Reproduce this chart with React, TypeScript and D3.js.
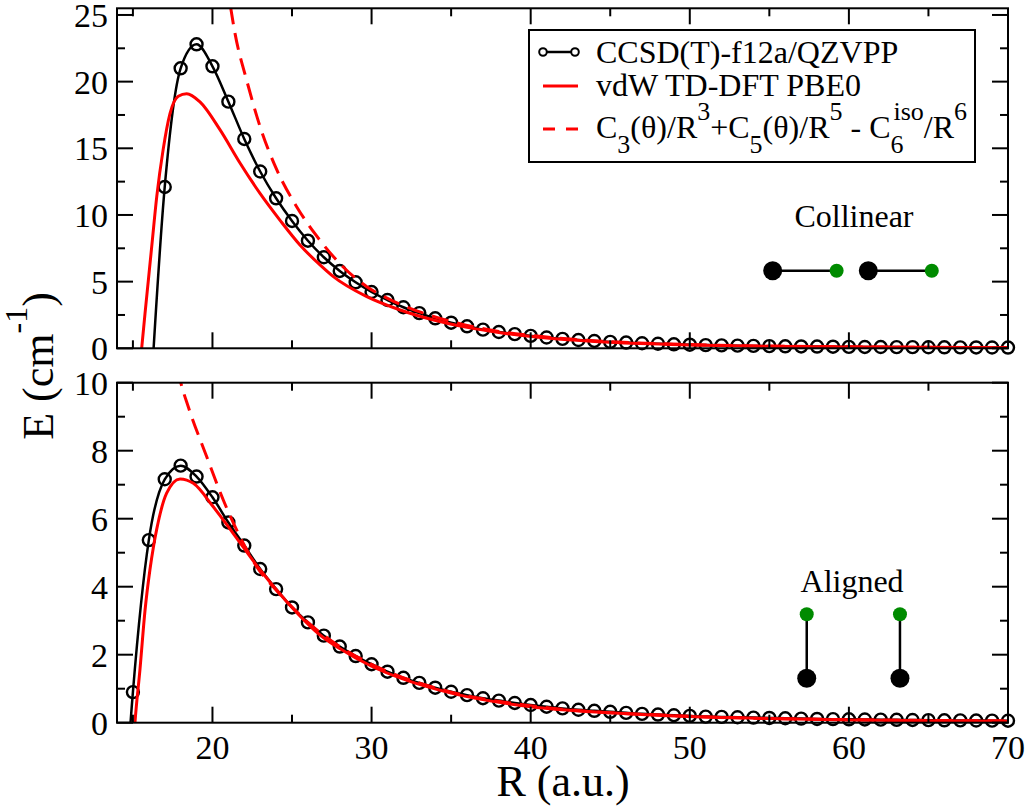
import * as d3 from "d3";

// ---- values ----
// upper panel (collinear)
const R_CC_TOP = [16, 17, 18, 19, 20, 21, 22, 23, 24, 25, 26, 27, 28, 29, 30, 31, 32, 33, 34, 35, 36, 37, 38, 39, 40, 41, 42, 43, 44, 45, 46, 47, 48, 49, 50, 51, 52, 53, 54, 55, 56, 57, 58, 59, 60, 61, 62, 63, 64, 65, 66, 67, 68, 69, 70];
const E_CC_TOP = [-6, 12.1, 21.0, 22.8, 21.15, 18.5, 15.7, 13.26, 11.25, 9.55, 8.07, 6.83, 5.8, 4.95, 4.22, 3.62, 3.08, 2.64, 2.25, 1.92, 1.65, 1.4, 1.22, 1.06, 0.93, 0.81, 0.71, 0.62, 0.55, 0.48, 0.43, 0.38, 0.34, 0.3, 0.27, 0.24, 0.22, 0.2, 0.18, 0.16, 0.15, 0.14, 0.13, 0.12, 0.11, 0.1, 0.095, 0.09, 0.085, 0.08, 0.075, 0.07, 0.065, 0.06, 0.057];
const R_VDW_TOP = [15.35, 15.55, 15.76, 15.97, 16.18, 16.5, 16.9, 17.33, 17.85, 18.38, 19.2, 20.47, 21.73, 23.0, 24.25, 25.5, 26.76, 27.6, 29.7, 31.8, 33.9, 36.0, 38.1, 40.2, 45, 50, 55, 60, 65, 70];
const E_VDW_TOP = [-2.6, 0, 2.6, 5.1, 7.6, 11.4, 14.9, 17.6, 18.9, 19.1, 18.5, 16.4, 13.9, 11.6, 9.6, 7.75, 6.25, 5.37, 3.87, 2.87, 2.12, 1.57, 1.17, 0.87, 0.45, 0.25, 0.15, 0.1, 0.07, 0.05];
const R_ASY_TOP = [20.9, 21.15, 21.42, 22.15, 23.0, 24.04, 25.3, 26.5, 28.2, 29.7, 31, 32, 34, 36, 38, 40, 45, 50, 60, 70];
const E_ASY_TOP = [27.5, 25.5, 23.6, 20.1, 16.6, 13.4, 10.6, 8.5, 6.12, 4.62, 3.75, 3.2, 2.35, 1.72, 1.27, 0.96, 0.5, 0.28, 0.11, 0.055];

// lower panel (aligned)
const R_CC_BOT = [14, 15, 16, 17, 18, 19, 20, 21, 22, 23, 24, 25, 26, 27, 28, 29, 30, 31, 32, 33, 34, 35, 36, 37, 38, 39, 40, 41, 42, 43, 44, 45, 46, 47, 48, 49, 50, 51, 52, 53, 54, 55, 56, 57, 58, 59, 60, 61, 62, 63, 64, 65, 66, 67, 68, 69, 70];
const E_CC_BOT = [-6, 0.9, 5.37, 7.16, 7.56, 7.24, 6.63, 5.89, 5.21, 4.52, 3.93, 3.39, 2.95, 2.56, 2.24, 1.96, 1.72, 1.5, 1.32, 1.17, 1.03, 0.91, 0.81, 0.72, 0.65, 0.58, 0.52, 0.47, 0.42, 0.38, 0.35, 0.32, 0.29, 0.26, 0.24, 0.22, 0.2, 0.18, 0.17, 0.16, 0.15, 0.14, 0.13, 0.12, 0.11, 0.105, 0.1, 0.095, 0.09, 0.085, 0.08, 0.075, 0.07, 0.067, 0.064, 0.061, 0.058];
const R_VDW_BOT = [15.0, 15.13, 15.45, 15.76, 16.07, 16.3, 16.5, 17.12, 17.96, 18.8, 20.05, 21.3, 23.0, 24.67, 26.76, 28, 30, 32, 35, 40, 45, 50, 55, 60, 65, 70];
const E_VDW_BOT = [-0.9, 0, 1.6, 3.3, 4.5, 5.2, 5.7, 6.75, 7.17, 7.04, 6.35, 5.57, 4.49, 3.56, 2.58, 2.18, 1.66, 1.28, 0.87, 0.47, 0.29, 0.18, 0.12, 0.08, 0.055, 0.04];
const R_ASY_BOT = [17.8, 18.02, 18.48, 19.64, 20.68, 21.73, 22.78, 24, 25, 26, 28, 30, 35, 40, 50, 60, 70];
const E_ASY_BOT = [10.4, 9.98, 9.29, 7.82, 6.55, 5.47, 4.59, 3.9, 3.4, 2.95, 2.24, 1.72, 0.9, 0.5, 0.19, 0.09, 0.055];

// axes
const X_MAJOR = [20, 30, 40, 50, 60, 70];
const X_MINOR = [15, 25, 35, 45, 55, 65];
const Y_TOP_MAJOR = [0, 5, 10, 15, 20, 25];
const Y_TOP_MINOR = [2.5, 7.5, 12.5, 17.5, 22.5];
const Y_BOT_MAJOR = [0, 2, 4, 6, 8, 10];
const Y_BOT_MINOR = [1, 3, 5, 7, 9];

// molecule sketches, in data units of each panel
const COLLINEAR_BIG = [[55.21, 5.82], [61.22, 5.82]];
const COLLINEAR_SMALL = [[59.23, 5.82], [65.21, 5.82]];
const ALIGNED_BIG = [[57.35, 1.31], [63.21, 1.31]];
const ALIGNED_SMALL = [[57.35, 3.19], [63.21, 3.19]];

// a single family name: the comma list did not resolve in the sandbox
const FONT = "Liberation Serif";
const GREEN = "#008b00";
const X_LEFT = 117;
const X_RIGHT = 1008;
const MAJOR = 16;
const MINOR = 8;

const x = d3.scaleLinear().domain([14, 70]).range([X_LEFT, X_RIGHT]);

const zip = (rs: number[], es: number[]) => rs.map((r, i) => [r, es[i]] as [number, number]);

interface PanelProps {
    id: string;
    y: d3.ScaleLinear<number, number>;
    yMajor: number[];
    yMinor: number[];
    cc: [number, number][];
    vdw: [number, number][];
    asy: [number, number][];
    xLabels: boolean;
}

function Panel({ id, y, yMajor, yMinor, cc, vdw, asy, xLabels }: PanelProps) {
    const [yb, yt] = y.range();
    const line = d3
        .line<[number, number]>()
        .x((d) => x(d[0]))
        .y((d) => y(d[1]))
        .curve(d3.curveMonotoneX);
    const [lo, hi] = y.domain();
    const pts = cc.filter((d) => d[1] >= lo && d[1] <= hi && d[0] >= 14);

    return (
        <g>
            <clipPath id={id}>
                <rect x={X_LEFT} y={yt} width={X_RIGHT - X_LEFT} height={yb - yt} />
            </clipPath>
            <g clipPath={`url(#${id})`} fill="none">
                <path d={line(cc) ?? ""} stroke="#000" strokeWidth={2.5} />
            </g>
            {pts.map((d, i) => (
                <circle key={i} cx={x(d[0])} cy={y(d[1])} r={6} fill="none" stroke="#000" strokeWidth={2.4} />
            ))}
            <g clipPath={`url(#${id})`} fill="none">
                <path d={line(vdw) ?? ""} stroke="#ff0000" strokeWidth={3} />
                <path d={line(asy) ?? ""} stroke="#ff0000" strokeWidth={3} strokeDasharray="17,9" />
            </g>

            {/* ticks point inward on all four sides */}
            <g stroke="#000" strokeWidth={2}>
                {X_MAJOR.map((v) => (
                    <g key={"xM" + v}>
                        <line x1={x(v)} x2={x(v)} y1={yb} y2={yb - MAJOR} />
                        <line x1={x(v)} x2={x(v)} y1={yt} y2={yt + MAJOR} />
                    </g>
                ))}
                {X_MINOR.map((v) => (
                    <g key={"xm" + v}>
                        <line x1={x(v)} x2={x(v)} y1={yb} y2={yb - MINOR} />
                        <line x1={x(v)} x2={x(v)} y1={yt} y2={yt + MINOR} />
                    </g>
                ))}
                {yMajor.map((v) => (
                    <g key={"yM" + v}>
                        <line x1={X_LEFT} x2={X_LEFT + MAJOR} y1={y(v)} y2={y(v)} />
                        <line x1={X_RIGHT} x2={X_RIGHT - MAJOR} y1={y(v)} y2={y(v)} />
                    </g>
                ))}
                {yMinor.map((v) => (
                    <g key={"ym" + v}>
                        <line x1={X_LEFT} x2={X_LEFT + MINOR} y1={y(v)} y2={y(v)} />
                        <line x1={X_RIGHT} x2={X_RIGHT - MINOR} y1={y(v)} y2={y(v)} />
                    </g>
                ))}
                <rect x={X_LEFT} y={yt} width={X_RIGHT - X_LEFT} height={yb - yt} fill="none" />
            </g>

            {yMajor.map((v) => (
                <text key={"yl" + v} x={X_LEFT - 9} y={y(v)} dy="0.35em" textAnchor="end" fontSize={34} style={{ fontFamily: FONT }}>
                    {v}
                </text>
            ))}
            {xLabels &&
                X_MAJOR.map((v) => (
                    <text key={"xl" + v} x={x(v)} y={yb + 36} textAnchor="middle" fontSize={34} style={{ fontFamily: FONT }}>
                        {v}
                    </text>
                ))}
        </g>
    );
}

function Legend() {
    const sub = 26;
    const t = { fontFamily: FONT };
    return (
        <g>
            <rect x={529} y={30} width={446} height={132} fill="#fff" stroke="#000" strokeWidth={2} />
            <line x1={543} x2={575} y1={52} y2={52} stroke="#000" strokeWidth={2.5} />
            <circle cx={543} cy={52} r={3.8} fill="#fff" stroke="#000" strokeWidth={2} />
            <circle cx={575} cy={52} r={3.8} fill="#fff" stroke="#000" strokeWidth={2} />
            <text x={596} y={63} fontSize={32} style={t}>
                CCSD(T)-f12a/QZVPP
            </text>
            <line x1={543} x2={578} y1={86} y2={86} stroke="#ff0000" strokeWidth={3} />
            <text x={596} y={96} fontSize={32} style={t}>
                vdW TD-DFT PBE0
            </text>
            <line x1={543} x2={578} y1={129} y2={129} stroke="#ff0000" strokeWidth={3} strokeDasharray="12,11" />
            <text x={596} y={138} fontSize={32} style={{ fontFamily: FONT, whiteSpace: "pre" }}>
                C<tspan dy={15} fontSize={sub}>3</tspan>
                <tspan dy={-15}>(θ)/R</tspan>
                <tspan dy={-18} fontSize={sub}>3</tspan>
                <tspan dy={18}>+C</tspan>
                <tspan dy={15} fontSize={sub}>5</tspan>
                <tspan dy={-15}>(θ)/R</tspan>
                <tspan dy={-18} fontSize={sub}>5</tspan>
                <tspan dy={18}> - C</tspan>
                <tspan dy={15} fontSize={sub}>6</tspan>
                <tspan dx={-10} dy={-33} fontSize={sub}>iso</tspan>
                <tspan dy={18}>/R</tspan>
                <tspan dy={-18} fontSize={sub}>6</tspan>
            </text>
        </g>
    );
}

function Molecules({
    y,
    big,
    small,
    label,
    labelAt,
}: {
    y: d3.ScaleLinear<number, number>;
    big: number[][];
    small: number[][];
    label: string;
    labelAt: [number, number];
}) {
    return (
        <g>
            {big.map((b, i) => (
                <line key={"l" + i} x1={x(b[0])} y1={y(b[1])} x2={x(small[i][0])} y2={y(small[i][1])} stroke="#000" strokeWidth={2.5} />
            ))}
            {big.map((b, i) => (
                <circle key={"b" + i} cx={x(b[0])} cy={y(b[1])} r={9.5} fill="#000" />
            ))}
            {small.map((s, i) => (
                <circle key={"s" + i} cx={x(s[0])} cy={y(s[1])} r={7} fill={GREEN} />
            ))}
            <text x={x(labelAt[0])} y={y(labelAt[1])} textAnchor="middle" fontSize={32} style={{ fontFamily: FONT }}>
                {label}
            </text>
        </g>
    );
}

export default function App() {
    const yTop = d3.scaleLinear().domain([0, 25.5]).range([348.3, 8.3]);
    const yBot = d3.scaleLinear().domain([0, 10]).range([722.7, 382.7]);

    return (
        <svg width={1031} height={810} style={{ position: "absolute", left: 0, top: 0, background: "#fff" }}>
            <rect width={1031} height={810} fill="#fff" />
            <Panel id="clipTop" y={yTop} yMajor={Y_TOP_MAJOR} yMinor={Y_TOP_MINOR} cc={zip(R_CC_TOP, E_CC_TOP)} vdw={zip(R_VDW_TOP, E_VDW_TOP)} asy={zip(R_ASY_TOP, E_ASY_TOP)} xLabels={false} />
            <Panel id="clipBot" y={yBot} yMajor={Y_BOT_MAJOR} yMinor={Y_BOT_MINOR} cc={zip(R_CC_BOT, E_CC_BOT)} vdw={zip(R_VDW_BOT, E_VDW_BOT)} asy={zip(R_ASY_BOT, E_ASY_BOT)} xLabels={true} />
            <Legend />
            <Molecules y={yTop} big={COLLINEAR_BIG} small={COLLINEAR_SMALL} label="Collinear" labelAt={[60.32, 9.12]} />
            <Molecules y={yBot} big={ALIGNED_BIG} small={ALIGNED_SMALL} label="Aligned" labelAt={[60.2, 3.84]} />

            <text x={563} y={796} textAnchor="middle" fontSize={44} style={{ fontFamily: FONT }}>
                R (a.u.)
            </text>
            <text transform="translate(53,366) rotate(-90)" textAnchor="middle" fontSize={44} style={{ fontFamily: FONT, whiteSpace: "pre" }}>
                E (cm<tspan dy={-26} fontSize={32}>-1</tspan>
                <tspan dy={26}>)</tspan>
            </text>
        </svg>
    );
}
